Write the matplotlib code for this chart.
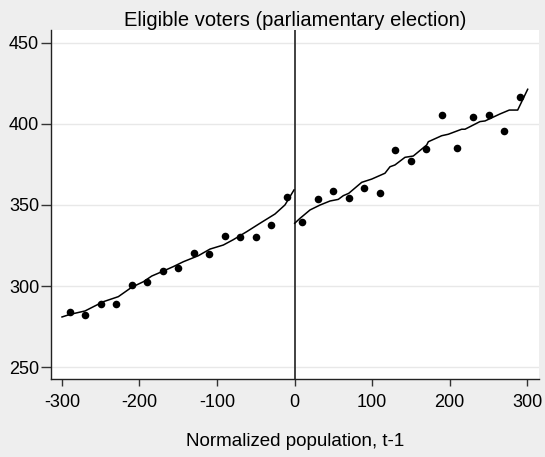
import matplotlib
matplotlib.use("Agg")
import matplotlib.pyplot as plt

plt.rcParams["font.family"] = ["Liberation Sans", "DejaVu Sans"]

# Binned means, left and right of the cutoff
bins_left = [-290, -270, -250, -230, -210, -190, -170, -150, -130, -110, -90, -70, -50, -30, -10]
voters_left = [284.2, 282.2, 289.0, 289.2, 300.9, 302.5, 309.5, 311.1, 320.4, 320.0, 330.9, 330.0, 330.2, 337.4, 354.7]
bins_right = [10, 30, 50, 70, 90, 110, 130, 150, 170, 190, 210, 230, 250, 270, 290]
voters_right = [339.7, 353.4, 358.6, 354.4, 360.6, 357.1, 383.8, 377.0, 384.6, 405.6, 385.2, 404.1, 405.4, 395.5, 416.6]

# Local fit on each side
fit_left_x = [-299.9, -289.5, -276.6, -270.2, -259.5, -246.6, -227.3, -210.0, -195.0, -184.2,
              -171.0, -156.4, -143.5, -124.2, -109.1, -91.9, -79.0, -61.8, -44.6, -25.3,
              -12.4, -0.8]
fit_left_y = [281.0, 282.6, 284.0, 284.7, 287.3, 290.4, 293.5, 299.3, 302.7, 306.2,
              308.9, 312.0, 315.0, 318.7, 322.8, 325.3, 328.6, 333.5, 338.7, 344.4,
              350.0, 359.2]
fit_right_x = [0.1, 6.9, 19.9, 32.7, 45.6, 56.3, 62.8, 69.7, 86.5, 99.4, 116.5, 123.0, 129.4,
               142.3, 153.0, 170.3, 172.4, 189.6, 198.1, 215.4, 219.7, 239.0, 245.5, 264.8,
               276.8, 287.6, 300.5]
fit_right_y = [338.7, 341.7, 346.9, 349.9, 352.4, 353.4, 355.7, 357.1, 363.9, 365.9, 369.5,
               373.5, 374.6, 379.3, 380.1, 386.9, 388.9, 392.6, 393.5, 396.6, 396.6, 401.3,
               401.7, 406.0, 408.4, 408.4, 421.2]

xticks = [-300, -200, -100, 0, 100, 200, 300]
yticks = [250, 300, 350, 400, 450]

bg = "#eeeeee"
fig = plt.figure(figsize=(5.45, 4.57), dpi=100, facecolor=bg)
ax = fig.add_axes([51 / 545, 78 / 457, 488 / 545, 349 / 457])
ax.set_facecolor("white")

for y in yticks:
    ax.axhline(y, color="#e8e8e8", lw=1.0, zorder=0)

ax.scatter(bins_left, voters_left, s=30, color="black", zorder=3, linewidths=0)
ax.scatter(bins_right, voters_right, s=30, color="black", zorder=3, linewidths=0)
ax.plot(fit_left_x, fit_left_y, color="black", lw=1.1, zorder=2)
ax.plot(fit_right_x, fit_right_y, color="black", lw=1.1, zorder=2)
ax.axvline(0, color="#333333", lw=1.3, zorder=1)

ax.set_xlim(-314.1, 315.1)
ax.set_ylim(242.8, 457.7)
ax.set_xticks(xticks)
ax.set_yticks(yticks)
ax.set_xticklabels([str(t) for t in xticks])
ax.set_yticklabels([str(t) for t in yticks])

for side in ("top", "right"):
    ax.spines[side].set_visible(False)
for side in ("left", "bottom"):
    ax.spines[side].set_color("#222222")
    ax.spines[side].set_linewidth(1.0)
ax.tick_params(direction="out", width=1, color="#333333", labelsize=13, labelcolor="black")
ax.tick_params(axis="x", length=5, pad=6)
ax.tick_params(axis="y", length=7.5, pad=1)

ax.set_xlabel("Normalized population, t-1", fontsize=13.5, labelpad=16)
ax.set_title("Eligible voters (parliamentary election)", fontsize=14.5, pad=2)

fig.savefig("out.png", dpi=100, facecolor=bg)
